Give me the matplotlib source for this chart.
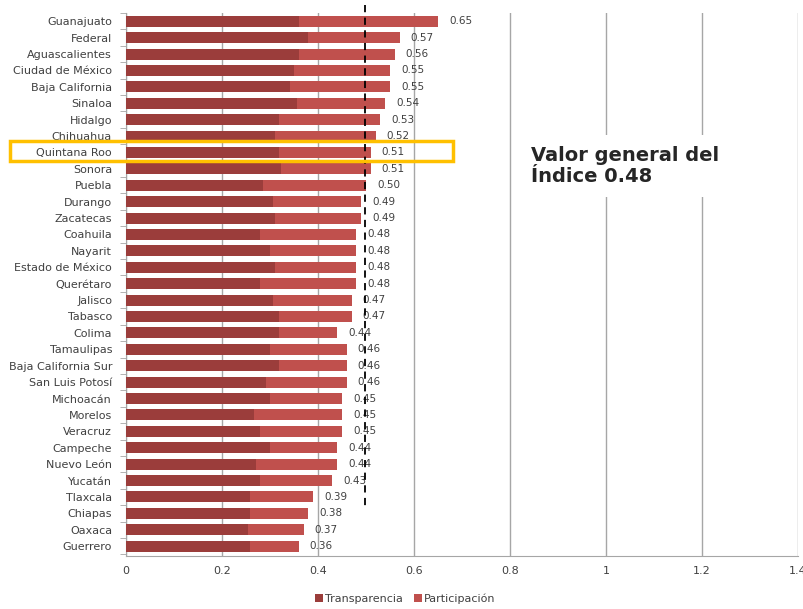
import matplotlib
matplotlib.use("Agg")
import matplotlib.pyplot as plt
from matplotlib.patches import Rectangle, Patch
import numpy as np

plt.rcParams['font.family'] = ['DejaVu Sans']

estados = ["Guanajuato", "Federal", "Aguascalientes", "Ciudad de México", "Baja California",
           "Sinaloa", "Hidalgo", "Chihuahua", "Quintana Roo", "Sonora", "Puebla", "Durango",
           "Zacatecas", "Coahuila", "Nayarit", "Estado de México", "Querétaro", "Jalisco",
           "Tabasco", "Colima", "Tamaulipas", "Baja California Sur", "San Luis Potosí",
           "Michoacán", "Morelos", "Veracruz", "Campeche", "Nuevo León", "Yucatán",
           "Tlaxcala", "Chiapas", "Oaxaca", "Guerrero"]
total = [0.65, 0.57, 0.56, 0.55, 0.55, 0.54, 0.53, 0.52, 0.51, 0.51, 0.50, 0.49, 0.49,
         0.48, 0.48, 0.48, 0.48, 0.47, 0.47, 0.44, 0.46, 0.46, 0.46, 0.45, 0.45, 0.45,
         0.44, 0.44, 0.43, 0.39, 0.38, 0.37, 0.36]
transparencia = [0.361, 0.380, 0.361, 0.351, 0.341, 0.356, 0.319, 0.311, 0.319, 0.322,
                 0.285, 0.306, 0.311, 0.280, 0.299, 0.311, 0.280, 0.306, 0.319, 0.319,
                 0.301, 0.319, 0.291, 0.301, 0.266, 0.280, 0.301, 0.270, 0.280, 0.259,
                 0.259, 0.255, 0.259]
participacion = [t - tr for t, tr in zip(total, transparencia)]
valor_general = 0.497
xticks = [0, 0.2, 0.4, 0.6, 0.8, 1, 1.2, 1.4]

c_trans = "#9B3D3B"
c_part = "#C0504D"
gris = "#404040"
linea = "#A6A6A6"

fig = plt.figure(figsize=(8.04, 6.09), dpi=100)
ax = fig.add_axes([126 / 804, 1 - 556 / 609, (798 - 126) / 804, (556 - 13) / 609])

y = np.arange(len(estados))
ax.barh(y, transparencia, height=0.67, color=c_trans, zorder=3)
ax.barh(y, participacion, left=transparencia, height=0.67, color=c_part, zorder=3)

# etiquetas de valor total
for yi, t in zip(y, total):
    ax.text(t + 0.023, yi, f"{t:.2f}", va="center", ha="left", fontsize=7.5, color=gris, zorder=4)

ax.set_xlim(0, 1.4)
ax.set_ylim(len(estados) - 0.4, -0.5)
ax.set_xticks(xticks)
ax.set_xticklabels(["0", "0.2", "0.4", "0.6", "0.8", "1", "1.2", "1.4"])
ax.set_yticks(y)
ax.set_yticklabels(estados)
ax.set_yticks(np.arange(-0.5, len(estados), 1), minor=True)
ax.tick_params(axis="y", which="major", length=0, pad=10, labelsize=8, labelcolor=gris)
ax.tick_params(axis="y", which="minor", length=4, color=linea)
ax.tick_params(axis="x", length=0, pad=7, labelsize=8, labelcolor=gris)
ax.grid(axis="x", color=linea, linewidth=1, zorder=0)
for s in ["top", "right"]:
    ax.spines[s].set_visible(False)
ax.spines["left"].set_color(linea)
ax.spines["bottom"].set_color(linea)

# línea del valor general
ax.plot([valor_general, valor_general], [-1.0, 29.7], color="black", linestyle=(0, (4, 3)),
        linewidth=1.3, clip_on=False, zorder=5)

# recuadro Quintana Roo
rect = Rectangle((10 / 804, 1 - 161 / 609), (453 - 10) / 804, 20 / 609, transform=fig.transFigure,
                 fill=False, edgecolor="#FFC000", linewidth=2.5, zorder=10)
fig.patches.append(rect)

fig.text(531 / 804, 1 - 166 / 609, "Valor general del\nÍndice 0.48", fontsize=14, fontweight="bold",
         color="#262626", va="center", ha="left", linespacing=1.15,
         bbox=dict(facecolor="white", edgecolor="none", pad=8))

handles = [Patch(facecolor=c_trans, label="Transparencia"), Patch(facecolor=c_part, label="Participación")]
fig.legend(handles=handles, loc="center", bbox_to_anchor=(405 / 804, 1 - 599 / 609), ncol=2,
           frameon=False, fontsize=8, handlelength=0.7, handleheight=0.7, handletextpad=0.2,
           columnspacing=1.0, labelcolor=gris)

fig.savefig("out.png", dpi=100)
